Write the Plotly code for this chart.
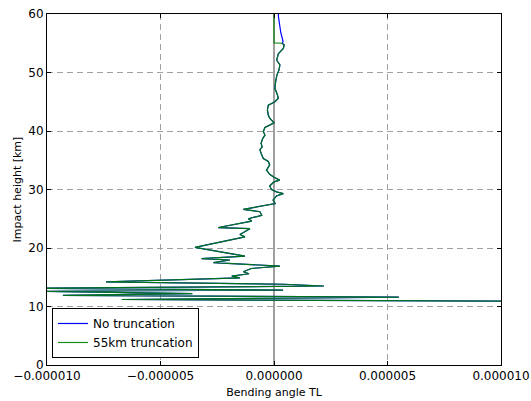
import numpy as np
import plotly.graph_objects as go

# Bending-angle tangent-linear profile (angle in units of 1e-6) vs impact height [km]
height_lower = [
    10.9, 11.2, 11.6, 11.9, 12.2, 12.6, 12.8, 13.1, 13.5, 13.8, 14.2, 14.9,
    15.2, 15.6, 15.95, 16.5, 16.9, 17.3, 17.5, 17.95, 18.2, 18.6, 20.1, 21.9,
    22.3, 23.3, 23.5, 24.6, 25.0, 25.6, 26.2, 26.6, 27.35, 27.6, 28.2, 28.9,
    29.3, 29.6, 30.0, 30.6, 31.3, 31.6, 32.1, 32.6, 33.3, 34.2, 34.8, 35.3,
    36.2, 36.8, 37.3, 37.9, 38.7, 39.3, 39.9, 40.6, 41.0, 41.4, 42.2, 42.7,
    43.6, 44.4, 45.0, 45.6, 46.2, 47.3, 48.4, 49.6, 50.4, 51.3, 52.1, 53.2,
    54.1, 54.7, 55.0,
]
angle_lower = [
    12.0, -6.7, 5.5, -9.3, -3.6, -10.5, 0.4, -11.0, 2.2, 0.45, -7.4, -1.5,
    -1.86, -1.1, -1.35, -1.0, 0.26, -2.0, -2.67, -1.94, -3.19, -1.28, -3.48, -1.28,
    -1.5, -1.06, -2.45, -0.98, -1.13, -0.54, -0.62, -1.35, -0.25, 0.05, -0.04, 0.11,
    0.41, 0.11, -0.11, -0.19, 0.0, 0.25, 0.0, -0.19, -0.33, -0.19, -0.25, -0.47,
    -0.57, -0.62, -0.52, -0.57, -0.50, -0.40, -0.47, -0.40, -0.19, 0.0, -0.19, -0.25,
    -0.29, -0.25, 0.04, 0.19, 0.15, 0.04, 0.07, 0.13, 0.22, 0.26, 0.12, 0.19,
    0.41, 0.45, 0.36,
]

# Upper part without truncation
height_upper_full = [55.3, 56.8, 58.5, 59.7, 60.0]
angle_upper_full = [0.40, 0.30, 0.22, 0.19, 0.2]

# Upper part with the 55 km truncation
height_upper_trunc = [55.05, 60.0]
angle_upper_trunc = [0.0, 0.0]

x_tick_vals = [-1e-5, -5e-6, 0.0, 5e-6, 1e-5]
x_tick_text = ["\u22120.000010", "\u22120.000005", "0.000000", "0.000005", "0.000010"]
y_tick_vals = [0, 10, 20, 30, 40, 50, 60]

UNIT = 1e-6
h_full = height_lower + height_upper_full
a_full = np.array(angle_lower + angle_upper_full) * UNIT
h_trunc = height_lower + height_upper_trunc
a_trunc = np.array(angle_lower + angle_upper_trunc) * UNIT

FONT = "DejaVu Sans"

fig = go.Figure()
fig.add_trace(go.Scatter(
    x=a_full, y=h_full, mode="lines", name="No truncation",
    line=dict(color="#0000ff", width=1.2),
))
fig.add_trace(go.Scatter(
    x=a_trunc, y=h_trunc, mode="lines", name="55km truncation",
    line=dict(color="#008000", width=1.2), opacity=0.9,
))

# vertical reference line at zero
fig.add_shape(type="line", xref="x", yref="paper", x0=0, x1=0, y0=0, y1=1,
              line=dict(color="#7f7f7f", width=1.5), layer="below")

axis_common = dict(
    showline=True, linecolor="black", linewidth=1, mirror="ticks",
    ticks="inside", ticklen=4, tickcolor="black", tickwidth=1,
    showgrid=True, gridcolor="#a0a0a0", gridwidth=1, griddash="6px,4px",
    zeroline=False, automargin=False,
    tickfont=dict(family=FONT, size=12, color="black"),
)

fig.update_layout(
    width=531, height=401,
    margin=dict(l=47, r=30, t=14, b=36),
    paper_bgcolor="white", plot_bgcolor="white",
    font=dict(family=FONT, size=12, color="black"),
    xaxis=dict(
        range=[-1e-5, 1e-5], tickvals=x_tick_vals, ticktext=x_tick_text,
        title=dict(text="Bending angle TL", font=dict(family=FONT, size=11), standoff=5),
        **axis_common,
    ),
    yaxis=dict(
        range=[0, 60], tickvals=y_tick_vals,
        title=dict(text="Impact height [km]", font=dict(family=FONT, size=11), standoff=4),
        **axis_common,
    ),
    legend=dict(
        x=0.011, y=0.02, xanchor="left", yanchor="bottom",
        bgcolor="white", bordercolor="black", borderwidth=1,
        font=dict(family=FONT, size=12), tracegroupgap=0,
    ),
    showlegend=True,
)

fig.write_html("out.html")
